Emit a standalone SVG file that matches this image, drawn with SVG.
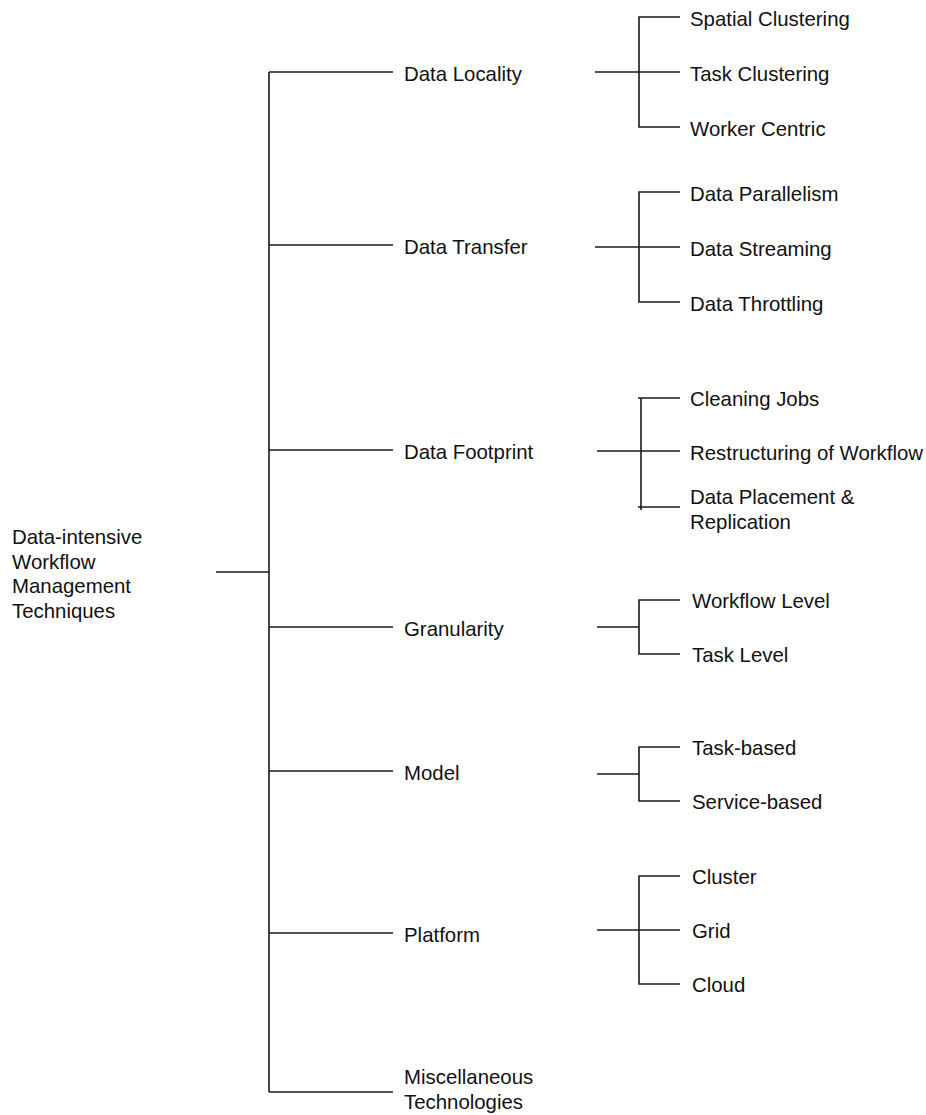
<svg xmlns="http://www.w3.org/2000/svg" width="926" height="1115" viewBox="0 0 926 1115">
<style>
.t{font-family:"Liberation Sans",Arial,Helvetica,sans-serif;font-size:20.4px;fill:#111}
.c line,.c path{stroke:#1a1a1a;stroke-width:1.6;fill:none}
</style>
<rect width="926" height="1115" fill="#fff"/>
<g class="c" id="connectors">
<line x1="216" y1="572" x2="269" y2="572"/>
<line x1="269" y1="72" x2="269" y2="1092"/>
<line x1="269" y1="72" x2="393" y2="72"/>
<line x1="269" y1="245" x2="393" y2="245"/>
<line x1="269" y1="450" x2="393" y2="450"/>
<line x1="269" y1="627" x2="393" y2="627"/>
<line x1="269" y1="771" x2="393" y2="771"/>
<line x1="269" y1="933" x2="393" y2="933"/>
<line x1="269" y1="1092" x2="393" y2="1092"/>
<line x1="595" y1="72" x2="639" y2="72"/>
<path d="M680 17H639V127H680M639 72H680"/>
<line x1="595" y1="247" x2="639" y2="247"/>
<path d="M680 192H639V302H680M639 247H680"/>
<line x1="597" y1="451" x2="641" y2="451"/>
<path d="M680 398H638M641 398V510M638 507H680M641 451H680"/>
<line x1="597" y1="627" x2="639" y2="627"/>
<path d="M680 600H639V654H680"/>
<line x1="597" y1="774" x2="639" y2="774"/>
<path d="M680 747H639V801H680"/>
<line x1="597" y1="930" x2="639" y2="930"/>
<path d="M680 876H639V984H680M639 930H680"/>
</g>
<g id="root"><text class="t" x="12" y="544">Data-intensive</text><text class="t" x="12" y="568.5">Workflow</text><text class="t" x="12" y="593">Management</text><text class="t" x="12" y="617.5">Techniques</text></g>
<g id="data-locality"><text class="t" x="404" y="81">Data Locality</text></g>
<g id="data-transfer"><text class="t" x="404" y="254">Data Transfer</text></g>
<g id="data-footprint"><text class="t" x="404" y="459">Data Footprint</text></g>
<g id="granularity"><text class="t" x="404" y="636">Granularity</text></g>
<g id="model"><text class="t" x="404" y="780">Model</text></g>
<g id="platform"><text class="t" x="404" y="942">Platform</text></g>
<g id="misc"><text class="t" x="404" y="1084">Miscellaneous</text><text class="t" x="404" y="1108.5">Technologies</text></g>
<g id="spatial-clustering"><text class="t" x="690" y="26">Spatial Clustering</text></g>
<g id="task-clustering"><text class="t" x="690" y="81">Task Clustering</text></g>
<g id="worker-centric"><text class="t" x="690" y="136">Worker Centric</text></g>
<g id="data-parallelism"><text class="t" x="690" y="201">Data Parallelism</text></g>
<g id="data-streaming"><text class="t" x="690" y="256">Data Streaming</text></g>
<g id="data-throttling"><text class="t" x="690" y="311">Data Throttling</text></g>
<g id="cleaning-jobs"><text class="t" x="690" y="406">Cleaning Jobs</text></g>
<g id="restructuring"><text class="t" x="690" y="460">Restructuring of Workflow</text></g>
<g id="data-placement"><text class="t" x="690" y="504">Data Placement &amp;</text><text class="t" x="690" y="529">Replication</text></g>
<g id="workflow-level"><text class="t" x="692" y="608">Workflow Level</text></g>
<g id="task-level"><text class="t" x="692" y="662">Task Level</text></g>
<g id="task-based"><text class="t" x="692" y="755">Task-based</text></g>
<g id="service-based"><text class="t" x="692" y="809">Service-based</text></g>
<g id="cluster"><text class="t" x="692" y="884">Cluster</text></g>
<g id="grid"><text class="t" x="692" y="938">Grid</text></g>
<g id="cloud"><text class="t" x="692" y="992">Cloud</text></g>
</svg>
